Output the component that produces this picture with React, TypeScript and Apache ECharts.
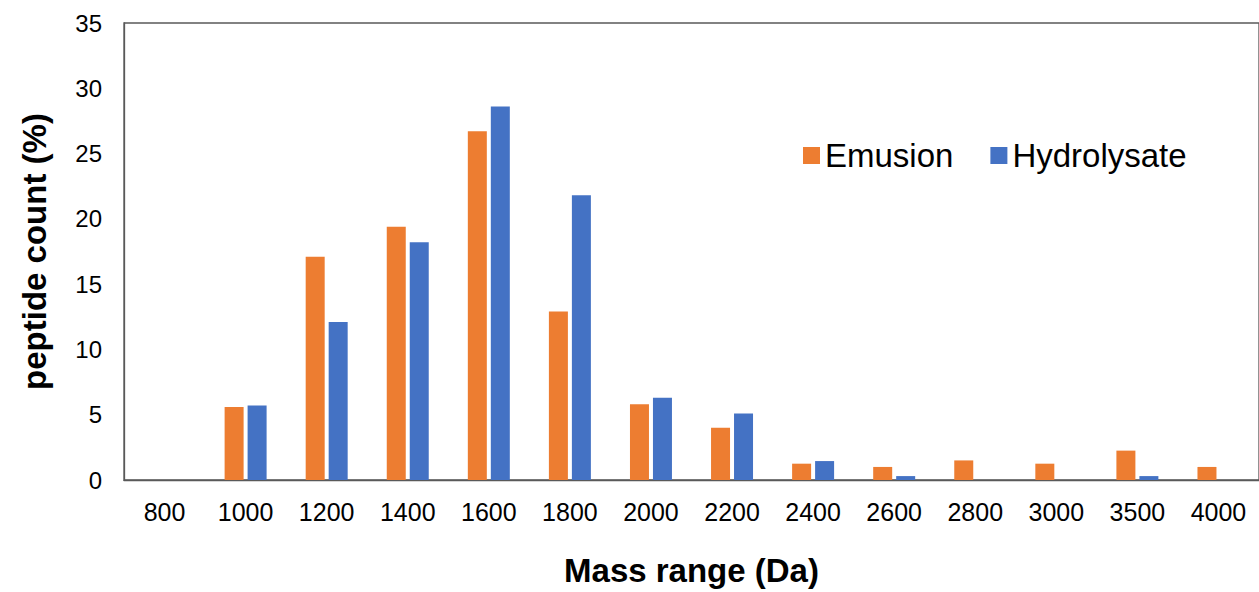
import React, { useEffect, useRef } from "react";
import * as echarts from "echarts";

const categories = ["800", "1000", "1200", "1400", "1600", "1800", "2000", "2200", "2400", "2600", "2800", "3000", "3500", "4000"];
const emusion = [0, 5.6, 17.1, 19.4, 26.7, 12.9, 5.8, 4.0, 1.25, 1.0, 1.5, 1.25, 2.25, 1.0];
const hydrolysate = [0, 5.7, 12.1, 18.2, 28.6, 21.8, 6.3, 5.1, 1.45, 0.3, 0, 0, 0.3, 0];
const yTicks = { min: 0, max: 35, interval: 5 };

const FONT = "Arial, 'Liberation Sans', Helvetica, sans-serif";

export default function App() {
  const ref = useRef<HTMLDivElement>(null);
  useEffect(() => {
    if (!ref.current) return;
    const chart = echarts.init(ref.current, null, { renderer: "svg" });
    chart.setOption({
      animation: false,
      backgroundColor: "#ffffff",
      textStyle: { fontFamily: FONT },
      grid: {
        left: 124,
        top: 23,
        width: 1141,
        height: 464,
        show: true,
        borderColor: "#595959",
        borderWidth: 1.3,
      },
      legend: {
        left: 798,
        top: 134,
        itemWidth: 17,
        itemHeight: 17,
        itemGap: 37,
        icon: "rect",
        textStyle: { fontSize: 33, color: "#000", fontFamily: FONT, padding: [0, 0, 0, 0] },
        data: ["Emusion", "Hydrolysate"],
      },
      xAxis: {
        type: "category",
        data: categories,
        name: "Mass range (Da)",
        nameLocation: "middle",
        nameGap: 74,
        nameTextStyle: { fontSize: 33, fontWeight: "bold", color: "#000", fontFamily: FONT },
        axisLine: { show: true, lineStyle: { color: "#595959", width: 1.3 } },
        axisTick: { show: false },
        axisLabel: { fontSize: 25, color: "#000", margin: 19, fontFamily: FONT },
      },
      yAxis: {
        type: "value",
        min: yTicks.min,
        max: yTicks.max,
        interval: yTicks.interval,
        name: "peptide count (%)",
        nameLocation: "middle",
        nameGap: 73,
        nameTextStyle: { fontSize: 33, fontWeight: "bold", color: "#000", fontFamily: FONT },
        axisLine: { show: true, lineStyle: { color: "#595959", width: 1.3 } },
        axisTick: { show: false },
        splitLine: { show: false },
        axisLabel: { fontSize: 24, color: "#000", margin: 22, fontFamily: FONT },
      },
      series: [
        {
          name: "Emusion",
          type: "bar",
          data: emusion,
          barWidth: 19,
          barGap: "21%",
          itemStyle: { color: "#ED7D31" },
        },
        {
          name: "Hydrolysate",
          type: "bar",
          data: hydrolysate,
          barWidth: 19,
          barGap: "21%",
          itemStyle: { color: "#4472C4" },
        },
      ],
    });
    return () => chart.dispose();
  }, []);
  return (
    <div
      ref={ref}
      style={{ position: "fixed", left: 0, top: 0, width: 1259, height: 592, background: "#fff" }}
    />
  );
}
